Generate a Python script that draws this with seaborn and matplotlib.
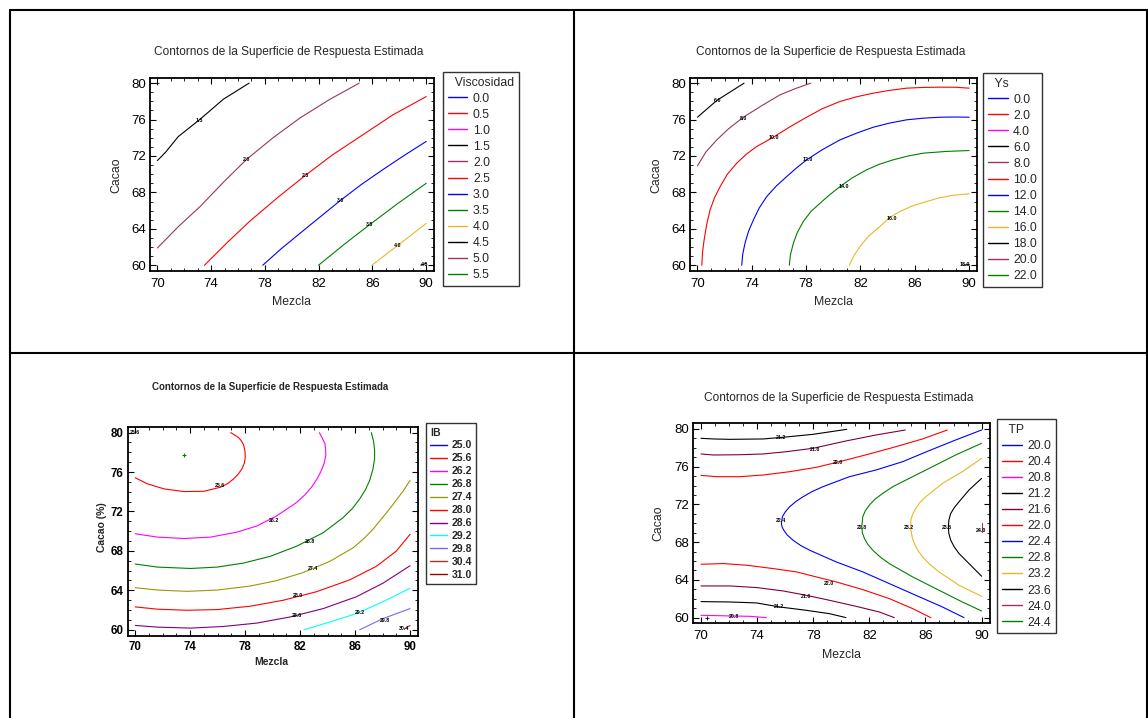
import pandas as pd
import matplotlib.pyplot as plt
import seaborn as sns
from matplotlib.lines import Line2D
from matplotlib.ticker import MultipleLocator

# shared axis ticks
mezcla_ticks = [70, 74, 78, 82, 86, 90]
cacao_ticks = [60, 64, 68, 72, 76, 80]

# ---------------- Viscosidad (top left) ----------------
visc_levels = ['0.0', '0.5', '1.0', '1.5', '2.0', '2.5', '3.0', '3.5', '4.0', '4.5', '5.0', '5.5']
visc_colors = ['#0000ff', '#ff0000', '#ff00ff', '#000000', '#993366', '#ff0000',
               '#0000ff', '#008000', '#e8b828', '#000000', '#993366', '#008000']
visc_15_x = [70.0, 70.6, 71.56, 73.18, 74.91, 76.82]
visc_15_y = [71.5, 72.4, 74.14, 76.04, 78.24, 80.0]
visc_20_x = [70.0, 71.6, 73.18, 74.9, 76.65, 78.6, 80.62, 82.8, 85.01]
visc_20_y = [61.9, 64.3, 66.45, 69.1, 71.65, 74.0, 76.19, 78.2, 80.0]
visc_25_x = [73.5, 75.2, 76.9, 79.0, 80.99, 83.0, 85.09, 87.5, 90.0]
visc_25_y = [60.0, 62.5, 64.87, 67.5, 69.85, 72.1, 74.14, 76.5, 78.53]
visc_30_x = [77.84, 79.2, 80.62, 82.1, 83.6, 85.2, 86.82, 88.4, 90.0]
visc_30_y = [60.0, 61.8, 63.52, 65.3, 67.1, 68.9, 70.55, 72.1, 73.6]
visc_35_x = [81.99, 83.9, 85.83, 87.9, 90.0]
visc_35_y = [60.0, 62.3, 64.5, 66.8, 69.0]
visc_40_x = [85.96, 87.9, 90.0]
visc_40_y = [60.0, 62.2, 64.6]
visc_45_x = [89.6, 90.0]
visc_45_y = [60.0, 60.2]
visc_lab = ['1.5', '2.0', '2.5', '3.0', '3.5', '4.0', '4.5']
visc_lab_x = [73.1, 76.65, 81.0, 83.6, 85.8, 87.9, 89.9]
visc_lab_y = [75.9, 71.6, 69.85, 67.1, 64.5, 62.2, 60.1]

# ---------------- Ys (top right) ----------------
ys_levels = ['0.0', '2.0', '4.0', '6.0', '8.0', '10.0', '12.0', '14.0', '16.0', '18.0', '20.0', '22.0']
ys_colors = visc_colors
ys_6_x = [70.0, 71.42, 73.43]
ys_6_y = [76.26, 78.1, 80.0]
ys_8_x = [70.0, 70.6, 71.42, 72.3, 73.38, 74.7, 76.08, 77.2, 78.33]
ys_8_y = [70.92, 72.4, 73.77, 75.0, 76.26, 77.5, 78.72, 79.4, 80.0]
ys_10_x = [70.32, 70.37, 70.49, 70.68, 70.93, 71.25, 71.67, 72.2, 72.89, 73.6, 74.36, 75.59,
           76.8, 78.04, 79.2, 80.49, 81.7, 82.94, 84.1, 85.39, 86.6, 87.84, 89.0, 90.0]
ys_10_y = [60.0, 61.4, 62.78, 64.5, 66.08, 67.4, 68.64, 70.0, 71.21, 72.2, 73.04, 74.07,
           75.2, 76.26, 77.2, 77.99, 78.5, 78.9, 79.2, 79.45, 79.53, 79.56, 79.55, 79.45]
ys_12_x = [73.26, 73.33, 73.5, 73.75, 74.12, 74.55, 75.1, 75.8, 76.57, 77.3, 78.04, 79.2,
           80.49, 81.7, 82.94, 84.1, 85.39, 86.6, 87.84, 89.0, 90.0]
ys_12_y = [60.0, 61.2, 62.42, 63.7, 64.98, 66.3, 67.55, 68.7, 69.74, 70.7, 71.58, 72.7,
           73.77, 74.5, 75.16, 75.6, 75.97, 76.15, 76.26, 76.28, 76.26]
ys_14_x = [76.76, 76.85, 77.06, 77.35, 77.79, 78.35, 79.02, 79.7, 80.49, 81.4, 82.45, 83.4,
           84.41, 85.5, 86.62, 88.3, 90.0]
ys_14_y = [60.0, 61.2, 62.42, 63.6, 64.8, 65.9, 66.81, 67.7, 68.64, 69.6, 70.48, 71.1,
           71.58, 72.0, 72.31, 72.5, 72.6]
ys_16_x = [81.18, 81.5, 81.96, 82.6, 83.43, 84.1, 84.9, 85.8, 86.86, 87.8, 88.82, 90.0]
ys_16_y = [60.0, 61.0, 62.05, 63.2, 64.25, 65.2, 65.9, 66.5, 67.0, 67.4, 67.69, 67.84]
ys_18_x = [89.55, 90.0]
ys_18_y = [60.0, 60.08]
ys_lab = ['6.0', '8.0', '10.0', '12.0', '14.0', '16.0', '18.0']
ys_lab_x = [71.47, 73.38, 75.64, 78.09, 80.78, 84.29, 89.7]
ys_lab_y = [78.1, 76.15, 74.07, 71.58, 68.64, 65.16, 60.04]

# ---------------- IB (bottom left) ----------------
ib_levels = ['25.0', '25.6', '26.2', '26.8', '27.4', '28.0', '28.6', '29.2', '29.8', '30.4', '31.0']
ib_colors = ['#0000ff', '#ff0000', '#ff00ff', '#008000', '#999900', '#ff0000',
             '#800080', '#00ffff', '#7b68ee', '#b03030', '#990000']
ib_256_x = [70.0, 70.89, 72.1, 73.55, 75.0, 76.2, 76.75, 77.17, 77.5, 77.77, 77.95, 78.01,
            77.98, 77.89, 77.73, 77.53, 76.95]
ib_256_y = [75.42, 74.8, 74.29, 74.02, 74.05, 74.46, 74.85, 75.32, 75.8, 76.34, 76.95, 77.54,
            78.15, 78.74, 79.15, 79.49, 80.0]
ib_262_x = [70.0, 71.62, 73.55, 75.48, 77.41, 78.85, 80.3, 81.75, 82.35, 82.83, 83.23, 83.55,
            83.76, 83.87, 83.86, 83.8, 83.4]
ib_262_y = [69.74, 69.4, 69.26, 69.4, 69.91, 70.53, 71.56, 72.92, 73.7, 74.46, 75.3, 76.17,
            76.95, 77.71, 78.3, 78.91, 80.0]
ib_268_x = [70.0, 71.62, 74.03, 75.96, 77.89, 79.82, 81.75, 83.68, 85.13, 85.8, 86.33, 86.75,
            87.06, 87.3, 87.42, 87.42, 87.35, 87.18]
ib_268_y = [66.67, 66.36, 66.22, 66.36, 66.77, 67.45, 68.48, 69.85, 71.38, 72.3, 73.26, 74.2,
            75.15, 76.3, 77.37, 78.2, 79.08, 80.0]
ib_274_x = [70.0, 71.62, 73.79, 75.96, 78.37, 80.3, 82.23, 84.16, 85.85, 86.6, 87.3, 88.5, 89.47, 90.0]
ib_274_y = [64.27, 64.03, 63.9, 64.03, 64.44, 64.99, 65.81, 66.94, 68.31, 69.2, 70.19, 72.24, 74.02, 75.15]
ib_280_x = [70.0, 71.62, 73.79, 75.96, 78.37, 80.78, 83.19, 85.6, 87.54, 88.99, 90.0]
ib_280_y = [62.32, 62.09, 61.98, 62.05, 62.39, 63.0, 63.86, 65.06, 66.43, 67.97, 69.68]
ib_286_x = [70.0, 71.62, 74.03, 76.44, 78.85, 81.27, 83.68, 86.09, 88.02, 90.0]
ib_286_y = [60.44, 60.27, 60.17, 60.34, 60.68, 61.3, 62.15, 63.35, 64.72, 66.5]
ib_292_x = [82.28, 84.16, 86.09, 88.02, 90.0]
ib_292_y = [60.0, 60.79, 61.64, 62.84, 64.21]
ib_298_x = [86.33, 88.02, 90.0]
ib_298_y = [60.0, 61.13, 62.15]
ib_304_x = [89.59, 90.0]
ib_304_y = [60.1, 60.44]
ib_lab = ['25.6', '25.6', '26.2', '26.8', '27.4', '28.0', '28.6', '29.2', '29.8', '30.4']
ib_lab_x = [70.0, 76.15, 80.13, 82.71, 82.9, 81.87, 81.75, 86.33, 88.14, 89.54]
ib_lab_y = [80.0, 74.63, 71.11, 68.99, 66.26, 63.45, 61.4, 61.74, 60.96, 60.17]

# ---------------- TP (bottom right) ----------------
tp_levels = ['20.0', '20.4', '20.8', '21.2', '21.6', '22.0', '22.4', '22.8', '23.2', '23.6', '24.0', '24.4']
tp_colors = ['#0000ff', '#ff0000', '#ff00ff', '#000000', '#800040', '#ff0000',
             '#0000ff', '#008000', '#e8b828', '#000000', '#993366', '#008000']
tp_212a_x = [70.0, 70.88, 72.06, 74.43, 75.85, 77.98, 80.39]
tp_212a_y = [79.01, 78.94, 78.9, 78.94, 79.12, 79.43, 79.96]
tp_216a_x = [70.0, 70.88, 72.77, 74.43, 76.08, 77.98, 80.34, 82.47, 84.56]
tp_216a_y = [77.35, 77.24, 77.27, 77.35, 77.59, 77.95, 78.73, 79.36, 79.89]
tp_220a_x = [70.0, 71.11, 72.77, 74.43, 76.32, 78.21, 79.87, 82.0, 83.89, 85.79, 87.56]
tp_220a_y = [75.08, 74.94, 74.94, 75.12, 75.47, 75.93, 76.53, 77.35, 78.12, 78.94, 79.89]
tp_224_x = [90.0, 88.15, 86.26, 84.37, 82.47, 80.58, 78.69, 77.9, 77.27, 76.75, 76.32, 76.0, 75.8,
            75.73, 75.78, 75.9, 76.15, 76.56, 77.1, 77.74, 79.63, 81.53, 83.42, 85.31, 87.21, 88.75]
tp_224_y = [79.89, 78.83, 77.7, 76.53, 75.65, 74.94, 73.88, 73.35, 72.81, 72.3, 71.75, 71.2, 70.69,
            69.98, 69.6, 69.27, 68.75, 68.21, 67.65, 67.15, 65.91, 64.85, 63.61, 62.37, 61.13, 60.0]
tp_228_x = [90.0, 88.15, 86.26, 84.6, 83.7, 82.95, 82.4, 82.0, 81.7, 81.53, 81.46, 81.5, 81.65,
            81.9, 82.24, 82.8, 83.42, 85.08, 86.73, 88.63, 90.0]
tp_228_y = [78.48, 77.24, 75.82, 74.58, 73.9, 73.17, 72.55, 71.93, 71.3, 70.69, 69.63, 69.0, 68.39,
            67.75, 67.15, 66.4, 65.73, 64.32, 63.08, 61.66, 60.71]
tp_232_x = [90.0, 88.63, 87.21, 86.02, 85.6, 85.31, 85.08, 84.96, 84.96, 85.05, 85.2, 85.45,
            85.79, 86.3, 86.97, 88.39, 90.0]
tp_232_y = [76.88, 75.47, 74.23, 72.81, 72.2, 71.58, 70.95, 70.34, 69.27, 68.55, 67.86, 67.15,
            66.44, 65.65, 64.85, 63.43, 62.27]
tp_236_x = [90.0, 89.1, 88.39, 88.05, 87.8, 87.67, 87.63, 87.67, 87.8, 88.05, 88.39, 89.22, 90.0]
tp_236_y = [74.76, 73.52, 72.28, 71.65, 71.04, 70.35, 69.63, 68.9, 68.21, 67.5, 66.8, 65.56, 64.39]
tp_240_x = [90.0, 90.0]
tp_240_y = [69.98, 69.1]
tp_220b_x = [70.0, 71.59, 73.24, 75.14, 76.79, 78.21, 79.63, 81.53, 83.42, 85.08, 86.38]
tp_220b_y = [65.66, 65.73, 65.56, 65.2, 64.85, 64.32, 63.79, 62.97, 62.02, 60.96, 60.0]
tp_216b_x = [70.0, 72.06, 73.95, 75.85, 77.5, 79.16, 81.05, 82.71, 83.78]
tp_216b_y = [63.36, 63.36, 63.19, 62.83, 62.37, 61.84, 61.2, 60.6, 60.0]
tp_212b_x = [70.0, 72.06, 73.95, 75.61, 77.5, 79.16, 80.34]
tp_212b_y = [61.7, 61.66, 61.56, 61.13, 60.78, 60.42, 60.0]
tp_208_x = [70.0, 72.06, 73.48, 74.66]
tp_208_y = [60.25, 60.18, 60.14, 60.0]
tp_lab = ['21.2', '21.6', '22.0', '22.4', '22.8', '23.2', '23.6', '24.0', '22.0', '21.6', '21.2', '20.8']
tp_lab_x = [75.73, 78.14, 79.75, 75.73, 81.46, 84.84, 87.56, 89.93, 79.11, 77.5, 75.54, 72.37]
tp_lab_y = [79.08, 77.81, 76.42, 70.27, 69.56, 69.56, 69.56, 69.2, 63.61, 62.19, 61.13, 60.14]

sns.set_theme(style='white')
plt.rcParams['font.family'] = ['Liberation Sans', 'DejaVu Sans']

W, H = 1148, 718
fig = plt.figure(figsize=(W / 100, H / 100), dpi=100)


def px_axes(left, top, right, bottom):
    return fig.add_axes([left / W, 1 - bottom / H, (right - left) / W, (bottom - top) / H])


def draw_line(ax, xs, ys, color):
    df = pd.DataFrame({'Mezcla': xs, 'Cacao': ys})
    sns.lineplot(data=df, x='Mezcla', y='Cacao', color=color, lw=0.8,
                 sort=False, estimator=None, ax=ax)


def style_axes(ax, bold, tsize, xpad):
    ax.set_xlim(69.45, 90.6)
    ax.set_ylim(59.4, 80.6)
    ax.set_xticks(mezcla_ticks)
    ax.set_yticks(cacao_ticks)
    ax.xaxis.set_minor_locator(MultipleLocator(1))
    ax.yaxis.set_minor_locator(MultipleLocator(1))
    ax.tick_params(which='both', direction='in', top=True, right=True,
                   bottom=True, left=True, colors='black')
    ax.tick_params(which='major', length=4, width=0.8, labelsize=tsize)
    ax.tick_params(axis='x', which='major', pad=xpad)
    ax.tick_params(axis='y', which='major', pad=3)
    ax.tick_params(which='minor', length=2, width=0.6)
    for lbl in ax.get_xticklabels() + ax.get_yticklabels():
        lbl.set_fontweight('bold' if bold else 'normal')
    for sp in ax.spines.values():
        sp.set_color('black')
        sp.set_linewidth(1.3)
    ax.set_xlabel('')
    ax.set_ylabel('')


def add_legend(ax, title, levels, colors, x, y, fsize, bold, spacing):
    handles = [Line2D([0], [0], color=c, lw=1.0) for c in colors]
    prop = {'size': fsize, 'weight': 'bold' if bold else 'normal'}
    leg = ax.legend(handles, levels, title=title, loc='upper left',
                    bbox_to_anchor=(x / W, 1 - y / H), bbox_transform=fig.transFigure,
                    borderaxespad=0, frameon=True, fancybox=False, prop=prop,
                    title_fontproperties=prop, handlelength=1.6, handletextpad=0.45,
                    labelspacing=spacing, borderpad=0.4, alignment='left')
    leg.get_frame().set_edgecolor('black')
    leg.get_frame().set_linewidth(1.0)


def add_labels(ax, texts, xs, ys):
    for t, x, y in zip(texts, xs, ys):
        ax.text(x, y, t, fontsize=3.8, fontweight='bold', ha='center', va='center', color='black')


title = 'Contornos de la Superficie de Respuesta Estimada'

# Panel 1: Viscosidad
ax1 = px_axes(150, 77.7, 434.3, 270.7)
for xs, ys, c in [(visc_15_x, visc_15_y, '#000000'), (visc_20_x, visc_20_y, '#993366'),
                  (visc_25_x, visc_25_y, '#ff0000'), (visc_30_x, visc_30_y, '#0000ff'),
                  (visc_35_x, visc_35_y, '#008000'), (visc_40_x, visc_40_y, '#e8b828'),
                  (visc_45_x, visc_45_y, '#000000')]:
    draw_line(ax1, xs, ys, c)
add_labels(ax1, visc_lab, visc_lab_x, visc_lab_y)
ax1.plot([70.0], [80.0], marker='+', color='black', ms=3, mew=0.6)
style_axes(ax1, False, 9.5, 5)
add_legend(ax1, '  Viscosidad', visc_levels, visc_colors, 443, 71.7, 8.8, False, 0.33)
fig.text(289 / W, 1 - 51.7 / H, title, ha='center', va='center', fontsize=8.6)
fig.text(291.7 / W, 1 - 301.7 / H, 'Mezcla', ha='center', va='center', fontsize=8.8)
fig.text(116.7 / W, 1 - 175 / H, 'Cacao', ha='center', va='center', fontsize=8.8, rotation=90)

# Panel 2: Ys
ax2 = px_axes(690, 77.7, 977.3, 270.7)
for xs, ys, c in [(ys_6_x, ys_6_y, '#000000'), (ys_8_x, ys_8_y, '#993366'),
                  (ys_10_x, ys_10_y, '#ff0000'), (ys_12_x, ys_12_y, '#0000ff'),
                  (ys_14_x, ys_14_y, '#008000'), (ys_16_x, ys_16_y, '#e8b828'),
                  (ys_18_x, ys_18_y, '#000000')]:
    draw_line(ax2, xs, ys, c)
add_labels(ax2, ys_lab, ys_lab_x, ys_lab_y)
ax2.plot([70.0], [80.0], marker='+', color='black', ms=3, mew=0.6)
style_axes(ax2, False, 9.5, 5)
add_legend(ax2, '  Ys', ys_levels, ys_colors, 983.3, 72.7, 8.8, False, 0.33)
fig.text(830.7 / W, 1 - 51.7 / H, title, ha='center', va='center', fontsize=8.6)
fig.text(833.3 / W, 1 - 301.7 / H, 'Mezcla', ha='center', va='center', fontsize=8.8)
fig.text(656.7 / W, 1 - 175 / H, 'Cacao', ha='center', va='center', fontsize=8.8, rotation=90)

# Panel 3: IB
ax3 = px_axes(127.7, 426.7, 418.3, 635.7)
for xs, ys, c in [(ib_256_x, ib_256_y, '#ff0000'), (ib_262_x, ib_262_y, '#ff00ff'),
                  (ib_268_x, ib_268_y, '#008000'), (ib_274_x, ib_274_y, '#999900'),
                  (ib_280_x, ib_280_y, '#ff0000'), (ib_286_x, ib_286_y, '#800080'),
                  (ib_292_x, ib_292_y, '#00ffff'), (ib_298_x, ib_298_y, '#7b68ee'),
                  (ib_304_x, ib_304_y, '#b03030')]:
    draw_line(ax3, xs, ys, c)
add_labels(ax3, ib_lab, ib_lab_x, ib_lab_y)
ax3.plot([73.55], [77.68], marker='+', color='#008000', ms=3, mew=0.8)
style_axes(ax3, True, 8.3, 4)
add_legend(ax3, 'IB', ib_levels, ib_colors, 425.7, 423.3, 7.6, True, 0.28)
fig.text(270 / W, 1 - 386.7 / H, title, ha='center', va='center', fontsize=7, fontweight='bold')
fig.text(271.7 / W, 1 - 661.7 / H, 'Mezcla', ha='center', va='center', fontsize=7.5, fontweight='bold')
fig.text(101.7 / W, 1 - 526.7 / H, 'Cacao (%)', ha='center', va='center', fontsize=7.5,
         fontweight='bold', rotation=90)

# Panel 4: TP
ax4 = px_axes(693.3, 423.3, 990, 623.3)
for xs, ys, c in [(tp_212a_x, tp_212a_y, '#000000'), (tp_216a_x, tp_216a_y, '#800040'),
                  (tp_220a_x, tp_220a_y, '#ff0000'), (tp_224_x, tp_224_y, '#0000ff'),
                  (tp_228_x, tp_228_y, '#008000'), (tp_232_x, tp_232_y, '#e8b828'),
                  (tp_236_x, tp_236_y, '#000000'), (tp_240_x, tp_240_y, '#993366'),
                  (tp_220b_x, tp_220b_y, '#ff0000'), (tp_216b_x, tp_216b_y, '#800040'),
                  (tp_212b_x, tp_212b_y, '#000000'), (tp_208_x, tp_208_y, '#ff00ff')]:
    draw_line(ax4, xs, ys, c)
add_labels(ax4, tp_lab, tp_lab_x, tp_lab_y)
ax4.plot([70.45], [60.0], marker='+', color='black', ms=3, mew=0.6)
style_axes(ax4, False, 9.5, 5)
add_legend(ax4, '  TP', tp_levels, tp_colors, 997.3, 419.3, 8.8, False, 0.33)
fig.text(838.3 / W, 1 - 398.3 / H, title, ha='center', va='center', fontsize=8.6)
fig.text(841.7 / W, 1 - 655 / H, 'Mezcla', ha='center', va='center', fontsize=8.8)
fig.text(658.3 / W, 1 - 523.3 / H, 'Cacao', ha='center', va='center', fontsize=8.8, rotation=90)

# table borders around the four panels
for (x0, y0, x1, y1) in [(10, 10, 1148, 10), (10, 10, 10, 718), (574, 10, 574, 718),
                         (10, 352.5, 1148, 352.5), (1146.5, 10, 1146.5, 718)]:
    fig.add_artist(Line2D([x0 / W, x1 / W], [1 - y0 / H, 1 - y1 / H],
                          transform=fig.transFigure, color='black', lw=1.5))

fig.savefig('out.png', dpi=100)
